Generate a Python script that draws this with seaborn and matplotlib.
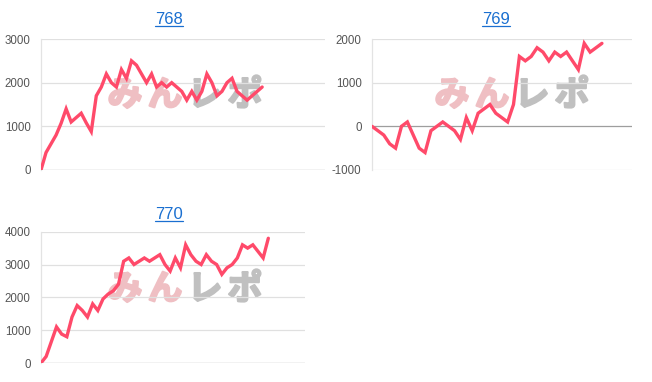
import matplotlib
matplotlib.use("Agg")
import matplotlib.pyplot as plt
from matplotlib.lines import Line2D
import matplotlib.patheffects as pe
import seaborn as sns
import pandas as pd

# ---- data ----
titles = ["768", "769", "770"]
s768 = [0, 400, 600, 800, 1070, 1400, 1100, 1200, 1300, 1080, 880, 1700, 1900, 2200,
        2000, 1900, 2300, 2100, 2500, 2400, 2200, 2000, 2200, 1900, 2000, 1900, 2000,
        1900, 1800, 1600, 1800, 1600, 1800, 2200, 2000, 1700, 1800, 2000, 2100, 1800,
        1700, 1600, 1700, 1800, 1900]
s769 = [0, -100, -200, -400, -500, 0, 100, -200, -500, -600, -100, 0, 100, 0, -100,
        -300, 200, -100, 300, 400, 500, 300, 200, 100, 500, 1600, 1500, 1600, 1800,
        1700, 1500, 1700, 1600, 1700, 1500, 1300, 1900, 1700, 1800, 1900]
s770 = [0, 200, 650, 1100, 880, 800, 1400, 1750, 1600, 1400, 1800, 1600, 1950, 2100,
        2200, 2400, 3100, 3200, 3000, 3100, 3200, 3100, 3200, 3300, 3000, 2800, 3200,
        2900, 3600, 3300, 3100, 3000, 3300, 3100, 3000, 2700, 2900, 3000, 3200, 3600,
        3500, 3600, 3400, 3200, 3800]
yticks768 = [0, 1000, 2000, 3000]
yticks769 = [-1000, 0, 1000, 2000]
yticks770 = [0, 1000, 2000, 3000, 4000]

W, H = 652, 382
sns.set_style("white")
plt.rcParams["font.family"] = ["Liberation Sans", "DejaVu Sans"]

fig = plt.figure(figsize=(W / 100, H / 100), dpi=100)
fig.patch.set_facecolor("white")

def px_rect(l, t, r, b):
    return [l / W, 1 - b / H, (r - l) / W, (b - t) / H]

panels = [
    dict(title=titles[0], data=s768, ticks=yticks768, rect=(41, 39, 325, 170), xmax=56.5,
         tpos=(169, 20), wm=(105, 95)),
    dict(title=titles[1], data=s769, ticks=yticks769, rect=(372, 39, 632, 170), xmax=44.1,
         tpos=(496, 20), wm=(432, 95)),
    dict(title=titles[2], data=s770, ticks=yticks770, rect=(41, 231.7, 305, 363), xmax=51.1,
         tpos=(169, 215), wm=(105, 289)),
]

line_color = "#ff4a6a"
title_color = "#1a6fd0"
titles_art = []
for p in panels:
    ax = fig.add_axes(px_rect(*p["rect"]))
    ax.set_facecolor("none")
    df = pd.DataFrame({"x": range(len(p["data"])), "y": p["data"]})
    sns.lineplot(data=df, x="x", y="y", ax=ax, color=line_color, linewidth=2.4,
                 zorder=3, solid_joinstyle="miter")
    ax.set_xlim(0, p["xmax"])
    ax.set_ylim(p["ticks"][0], p["ticks"][-1])
    ax.set_yticks(p["ticks"])
    ax.set_yticklabels([str(t) for t in p["ticks"]])
    ax.set_xticks([])
    ax.set_xlabel("")
    ax.set_ylabel("")
    ax.tick_params(axis="y", length=0, pad=7.5, labelsize=8.3, labelcolor="#555555")
    for t in p["ticks"]:
        ax.axhline(t, color="#9e9e9e" if t == 0 else "#e0e0e0", lw=0.9, zorder=1)
    for s in ["top", "right", "bottom"]:
        ax.spines[s].set_visible(False)
    ax.spines["left"].set_color("#e3e3e3")
    ax.spines["left"].set_linewidth(0.9)
    # watermark
    wx, wy = p["wm"]
    chars = [("み", "#efbfc3"), ("ん", "#efbfc3"), ("レ", "#c0c0c0"), ("ポ", "#c0c0c0")]
    for i, (ch, col) in enumerate(chars):
        ax.text((wx + 20 + i * 40) / W, 1 - wy / H, ch, transform=fig.transFigure,
                ha="center", va="center", fontsize=25, fontweight="bold", color=col,
                family=["Noto Sans CJK JP", "DejaVu Sans"], zorder=0.5, clip_on=False,
                path_effects=[pe.withStroke(linewidth=1.6, foreground=col)])
    tx, ty = p["tpos"]
    t = fig.text(tx / W, 1 - ty / H, p["title"], ha="center", va="center",
                 fontsize=12, color=title_color)
    titles_art.append(t)

fig.canvas.draw()
renderer = fig.canvas.get_renderer()
for t in titles_art:
    bb = t.get_window_extent(renderer)
    y = (bb.y0 + 1.5) / H
    fig.add_artist(Line2D([bb.x0 / W, bb.x1 / W], [y, y], transform=fig.transFigure,
                          color=title_color, lw=0.9))

fig.savefig("out.png", dpi=100, facecolor="white")
